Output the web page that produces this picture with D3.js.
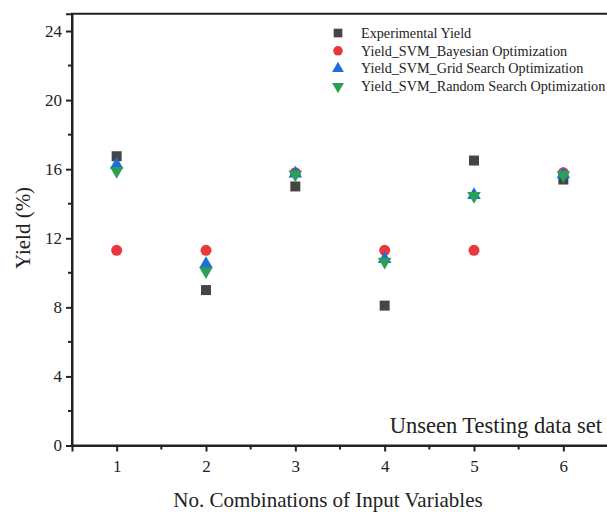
<!DOCTYPE html>
<html>
<head>
<meta charset="utf-8">
<script src="https://cdn.jsdelivr.net/npm/d3@7"></script>
<style>
  body { margin: 0; background: #fff; }
  text { font-family: "Liberation Serif", "Times New Roman", serif; fill: #222; }
</style>
</head>
<body>
<div id="chart"></div>
<script>
// data
var combos = [1, 2, 3, 4, 5, 6];
var experimental = [16.75, 9.0, 15.0, 8.1, 16.5, 15.4];
var bayesian     = [11.3, 11.3, 15.8, 11.3, 11.3, 15.8];
var gridSearch   = [16.25, 10.5, 15.75, 10.8, 14.5, 15.7];
var randomSearch = [15.9, 10.1, 15.7, 10.65, 14.45, 15.65];
var yTicks = [0, 4, 8, 12, 16, 20, 24];
var yMinor = [2, 6, 10, 14, 18, 22];
var xMinor = [1.5, 2.5, 3.5, 4.5, 5.5];

var series = [
  {name: "Experimental Yield", values: experimental, shape: d3.symbolSquare, color: "#454545", size: 100, rot: 0},
  {name: "Yield_SVM_Bayesian Optimization", values: bayesian, shape: d3.symbolCircle, color: "#e8383d", size: 95, rot: 0},
  {name: "Yield_SVM_Grid Search Optimization", values: gridSearch, shape: d3.symbolTriangle, color: "#1c6fd8", size: 80, rot: 0},
  {name: "Yield_SVM_Random Search Optimization", values: randomSearch, shape: d3.symbolTriangle, color: "#2aa055", size: 80, rot: 180}
];

var W = 607, H = 512;
var margin = {top: 14, right: 0, bottom: 66, left: 72};

var svg = d3.select('#chart')
    .append('svg')
    .attr('width', W)
    .attr('height', H);

var x = d3.scaleLinear().domain([0.5, 6.5]).range([margin.left, 608]);
var y = d3.scaleLinear().domain([0, 25]).range([445.5, 445.5 - 25 * 17.27]);

// frame (top and right sides)
svg.append('rect')
    .attr('x', margin.left)
    .attr('y', y(25))
    .attr('width', 608 - margin.left + 2)
    .attr('height', y(0) - y(25))
    .attr('fill', 'none')
    .attr('stroke', '#222')
    .attr('stroke-width', 2);

// y axis
var yAxis = svg.append('g')
    .attr('transform', 'translate(' + margin.left + ',0)')
    .call(d3.axisLeft(y).tickValues(yTicks).tickSize(6).tickPadding(4));
yAxis.append('g').selectAll('line')
    .data(yMinor).enter().append('line')
    .attr('x1', 0).attr('x2', -4)
    .attr('y1', function(d){ return y(d); })
    .attr('y2', function(d){ return y(d); })
    .attr('stroke', '#222').attr('stroke-width', 2);

// x axis
var xAxis = svg.append('g')
    .attr('transform', 'translate(0,' + y(0) + ')')
    .call(d3.axisBottom(x).tickValues(combos).tickSize(6).tickPadding(8).tickFormat(d3.format('d')));
xAxis.append('g').selectAll('line')
    .data(xMinor).enter().append('line')
    .attr('x1', function(d){ return x(d); })
    .attr('x2', function(d){ return x(d); })
    .attr('y1', 0).attr('y2', 4)
    .attr('stroke', '#222').attr('stroke-width', 2);

[yAxis, xAxis].forEach(function(ax){
  ax.select('.domain').attr('stroke', '#222').attr('stroke-width', 2);
  ax.selectAll('.tick line').attr('stroke', '#222').attr('stroke-width', 2);
  ax.selectAll('.tick text')
    .attr('font-family', '"Liberation Serif", serif')
    .attr('font-size', 17)
    .attr('fill', '#222');
});

// axis titles
svg.append('text')
    .attr('transform', 'translate(30,228) rotate(-90)')
    .attr('text-anchor', 'middle')
    .attr('font-size', 21)
    .text('Yield (%)');

svg.append('text')
    .attr('x', 328)
    .attr('y', 507)
    .attr('text-anchor', 'middle')
    .attr('font-size', 21)
    .text('No. Combinations of Input Variables');

// points
series.forEach(function(s){
  svg.append('g').selectAll('path')
    .data(s.values).enter().append('path')
    .attr('d', d3.symbol().type(s.shape).size(s.size))
    .attr('transform', function(d, i){
      return 'translate(' + x(combos[i]) + ',' + y(d) + ') rotate(' + s.rot + ')';
    })
    .attr('fill', s.color);
});

// legend
var legend = svg.append('g').attr('transform', 'translate(338,33)');
var rows = legend.selectAll('g').data(series).enter().append('g')
    .attr('transform', function(d, i){ return 'translate(0,' + (i * 17.8) + ')'; });
rows.append('path')
    .attr('d', function(d){ return d3.symbol().type(d.shape).size(d.size * 0.75)(); })
    .attr('transform', function(d){ return 'rotate(' + d.rot + ')'; })
    .attr('fill', function(d){ return d.color; });
rows.append('text')
    .attr('x', 23)
    .attr('y', 4.8)
    .attr('font-size', 14.2)
    .text(function(d){ return d.name; });

// annotation
svg.append('text')
    .attr('x', 602)
    .attr('y', 433)
    .attr('text-anchor', 'end')
    .attr('font-size', 22.5)
    .text('Unseen Testing data set');
</script>
</body>
</html>
